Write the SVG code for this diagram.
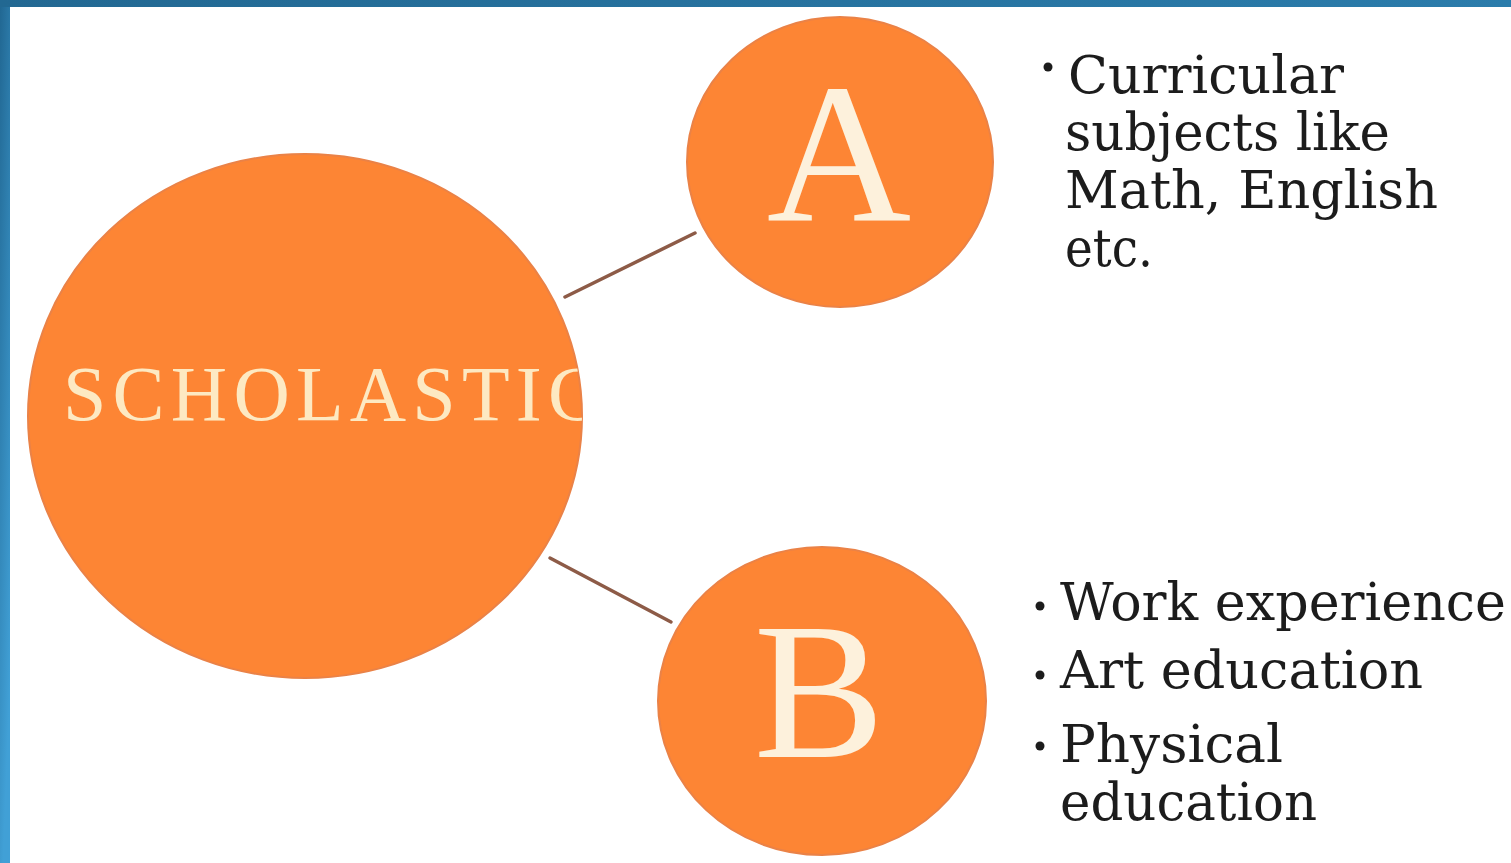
<svg xmlns="http://www.w3.org/2000/svg" width="1511" height="863" viewBox="0 0 1511 863">
  <defs>
    <linearGradient id="frameGrad" x1="0" y1="0" x2="0.3" y2="1">
      <stop offset="0" stop-color="#216792"/>
      <stop offset="1" stop-color="#41a0d6"/>
    </linearGradient>
    <linearGradient id="topGrad" x1="0" y1="0" x2="1" y2="0">
      <stop offset="0" stop-color="#226892"/>
      <stop offset="1" stop-color="#2b7cab"/>
    </linearGradient>
    <clipPath id="bigClip">
      <ellipse cx="305" cy="416" rx="277" ry="262"/>
    </clipPath>
    <style>
      .disc { fill: #fd8534; stroke: #ea8247; stroke-width: 2; }
      .link { stroke: #8d5b47; stroke-width: 3.5; fill: none; stroke-linecap: round; }
      .letter { font-family: "Liberation Serif", "DejaVu Serif", serif; fill: #fdf1dc; text-anchor: middle; }
      .body { font-family: "DejaVu Serif", "Liberation Serif", serif; font-size: 52px; fill: #1c1c1c; }
      .bullet { fill: #1c1c1c; }
    </style>
  </defs>

  <rect x="0" y="0" width="1511" height="863" fill="#ffffff"/>
  <g id="frame">
    <rect x="0" y="0" width="10" height="863" fill="url(#frameGrad)"/>
    <rect x="0" y="0" width="1511" height="7" fill="url(#topGrad)"/>
  </g>

  <g id="connectors">
    <line class="link" x1="565" y1="297" x2="695" y2="233"/>
    <line class="link" x1="550" y1="558" x2="671" y2="622"/>
  </g>

  <g id="node-scholastic">
    <ellipse class="disc" cx="305" cy="416" rx="277" ry="262"/>
    <g clip-path="url(#bigClip)">
      <text x="63" y="420" font-family="Liberation Serif, DejaVu Serif, serif" font-size="78" fill="#fde9c2" textLength="537" lengthAdjust="spacing">SCHOLASTIC</text>
    </g>
  </g>

  <g id="node-a">
    <ellipse class="disc" cx="840" cy="162" rx="153" ry="145"/>
    <text class="letter" x="839" y="220" font-size="200">A</text>
  </g>

  <g id="node-b">
    <ellipse class="disc" cx="822" cy="701" rx="164" ry="154"/>
    <text class="letter" x="819" y="757" font-size="196">B</text>
  </g>

  <g id="text-a">
    <circle class="bullet" cx="1048" cy="67" r="4.5"/>
    <text class="body" x="1068" y="93" textLength="276" lengthAdjust="spacingAndGlyphs">Curricular</text>
    <text class="body" x="1065" y="150" textLength="325" lengthAdjust="spacingAndGlyphs">subjects like</text>
    <text class="body" x="1065" y="208" textLength="373" lengthAdjust="spacingAndGlyphs">Math, English</text>
    <text class="body" x="1065" y="266" textLength="88" lengthAdjust="spacingAndGlyphs">etc.</text>
  </g>

  <g id="text-b">
    <circle class="bullet" cx="1040" cy="606" r="4.5"/>
    <text class="body" x="1060" y="620" textLength="446" lengthAdjust="spacingAndGlyphs">Work experience</text>
    <circle class="bullet" cx="1040" cy="675" r="4.5"/>
    <text class="body" x="1060" y="688" textLength="363" lengthAdjust="spacingAndGlyphs">Art education</text>
    <circle class="bullet" cx="1040" cy="746" r="4.5"/>
    <text class="body" x="1060" y="762" textLength="223" lengthAdjust="spacingAndGlyphs">Physical</text>
    <text class="body" x="1060" y="820" textLength="257" lengthAdjust="spacingAndGlyphs">education</text>
  </g>
</svg>
